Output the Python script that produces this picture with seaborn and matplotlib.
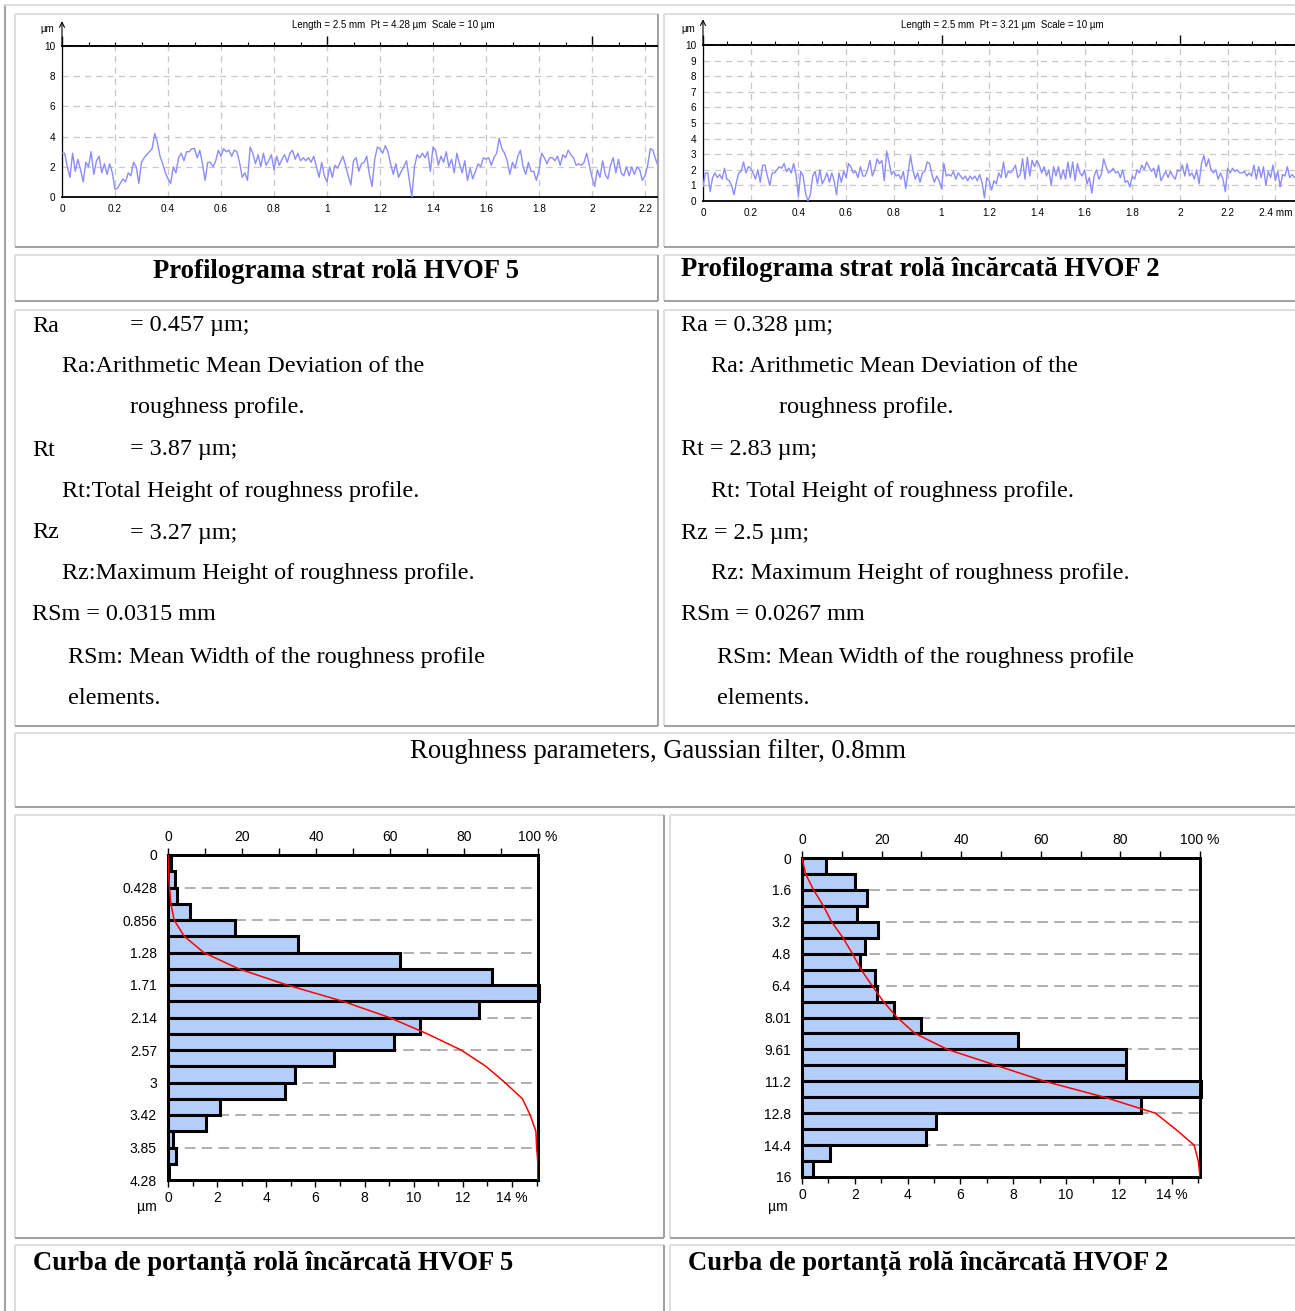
import numpy as np
import pandas as pd
import matplotlib
matplotlib.use("Agg")
import matplotlib.pyplot as plt
import seaborn as sns
from matplotlib.ticker import MultipleLocator, FixedLocator, NullFormatter, FuncFormatter

# ---------------- data ----------------
profile_step_mm = 0.01
profile1_um = [
    2.9, 2.9, 2.0, 1.3, 2.9, 1.7, 2.5, 1.8, 1.0, 2.3,
    2.0, 3.0, 1.5, 2.4, 2.7, 1.6, 2.2, 1.5, 2.2, 1.6,
    0.5, 0.6, 0.9, 1.2, 1.0, 1.6, 1.4, 2.3, 2.0, 0.9,
    2.3, 2.6, 2.8, 3.0, 3.2, 4.2, 3.6, 2.7, 2.2, 1.6,
    1.2, 0.9, 2.0, 1.6, 2.6, 2.9, 2.4, 3.0, 3.0, 3.2,
    3.2, 2.6, 3.1, 2.2, 1.1, 2.3, 2.3, 2.0, 2.4, 3.1,
    2.7, 3.2, 3.0, 3.1, 2.7, 3.1, 3.0, 2.3, 1.3, 1.6,
    1.1, 3.3, 2.9, 2.2, 2.8, 2.0, 2.9, 2.1, 2.4, 2.8,
    1.8, 2.7, 2.1, 2.5, 2.8, 2.3, 2.9, 3.1, 2.5, 2.9,
    2.4, 2.6, 2.4, 2.6, 2.3, 2.7, 2.0, 1.3, 2.3, 1.4,
    1.0, 2.0, 1.3, 2.1, 1.9, 2.3, 2.7, 2.1, 1.4, 0.8,
    2.4, 2.6, 1.7, 2.2, 2.3, 2.7, 1.5, 0.7, 2.5, 3.3,
    3.2, 2.9, 3.4, 3.0, 2.2, 1.5, 2.2, 1.3, 1.7, 2.0,
    2.4, 1.2, 0.0, 2.0, 2.8, 2.6, 2.9, 2.6, 3.0, 1.7,
    3.3, 3.1, 2.1, 2.7, 2.3, 3.0, 2.0, 2.5, 1.6, 2.9,
    2.2, 1.6, 2.4, 1.1, 1.9, 1.2, 1.7, 2.2, 2.0, 2.6,
    2.5, 2.6, 2.1, 2.6, 2.9, 3.9, 3.2, 2.9, 2.4, 1.5,
    2.3, 1.9, 2.7, 3.1, 2.0, 1.5, 2.3, 1.7, 1.7, 1.1,
    1.8, 2.9, 2.6, 2.2, 2.6, 2.6, 2.4, 2.7, 2.1, 2.8,
    2.6, 3.1, 2.8, 2.6, 2.1, 2.2, 2.1, 2.3, 2.9, 2.1,
    1.3, 0.7, 1.8, 1.3, 2.4, 1.5, 1.2, 2.1, 2.6, 1.6,
    2.5, 1.6, 1.4, 2.0, 1.4, 2.0, 1.5, 2.0, 1.8, 1.1,
    1.4, 2.1, 3.2, 3.1, 2.5, 2.0, 1.9,
]
profile2_um = [
    0.9, 1.8, 1.8, 0.6, 1.5, 1.8, 1.5, 1.7, 1.4, 2.1,
    1.4, 1.3, 1.0, 0.4, 1.2, 1.8, 1.9, 2.5, 1.8, 2.2,
    2.1, 1.8, 1.4, 2.0, 1.2, 2.3, 2.3, 1.6, 1.0, 1.8,
    1.8, 2.0, 2.2, 2.1, 2.4, 1.9, 2.1, 1.8, 2.4, 1.7,
    0.3, 1.9, 1.6, 0.5, 0.0, 0.4, 1.6, 1.9, 1.1, 2.0,
    1.1, 1.4, 1.8, 1.2, 1.8, 1.3, 0.4, 1.8, 1.2, 1.9,
    1.5, 2.4, 2.2, 1.8, 1.9, 1.5, 2.2, 1.6, 1.6, 2.0,
    2.6, 1.6, 2.0, 2.7, 2.4, 2.6, 1.3, 3.2, 2.5, 1.7,
    1.9, 1.6, 1.7, 1.4, 1.9, 0.8, 1.8, 2.9, 2.0, 1.4,
    1.8, 1.2, 1.8, 1.9, 2.5, 2.4, 1.7, 1.2, 1.6, 1.3,
    0.8, 2.4, 1.6, 1.7, 1.6, 1.9, 1.4, 1.8, 1.6, 1.4,
    1.6, 1.3, 1.6, 1.4, 1.6, 1.3, 1.7, 1.2, 0.2, 1.5,
    1.3, 0.7, 1.3, 1.1, 1.8, 1.5, 2.5, 1.5, 1.9, 1.8,
    2.0, 2.3, 1.5, 1.7, 2.7, 1.4, 2.8, 1.6, 2.6, 2.2,
    2.6, 2.3, 1.8, 2.2, 1.6, 2.0, 1.0, 2.2, 1.6, 2.2,
    1.4, 2.0, 1.4, 2.5, 1.5, 2.5, 1.3, 2.4, 1.8, 1.6,
    2.0, 1.1, 1.5, 0.5, 1.6, 2.0, 1.4, 1.7, 2.7, 2.2,
    1.8, 1.9, 2.1, 1.8, 1.9, 1.5, 2.0, 1.2, 1.3, 0.9,
    1.6, 1.4, 2.0, 1.8, 2.3, 2.0, 2.5, 2.2, 1.9, 2.1,
    1.5, 2.3, 1.3, 1.6, 1.9, 1.5, 1.9, 1.6, 1.4, 2.0,
    1.9, 2.3, 1.6, 2.4, 1.6, 1.8, 1.4, 2.0, 1.1, 2.4,
    2.9, 2.2, 2.7, 2.0, 1.8, 2.0, 1.4, 1.8, 1.4, 0.6,
    2.1, 1.8, 2.1, 1.9, 2.0, 1.8, 1.8, 1.9, 1.6, 1.8,
    1.6, 2.3, 1.4, 2.2, 1.5, 2.2, 1.0, 1.9, 1.5, 2.3,
    1.3, 1.9, 0.9, 1.7, 1.6, 2.2, 1.5, 1.7, 1.5,
]
profile1_title = "Length = 2.5 mm  Pt = 4.28 µm  Scale = 10 µm"
profile2_title = "Length = 2.5 mm  Pt = 3.21 µm  Scale = 10 µm"

hist1_depth_max = 4.28
hist1_pct = [0.14, 0.27, 0.37, 0.88, 2.74, 5.29, 9.43, 13.19, 15.10, 12.65,
             10.24, 9.20, 6.74, 5.16, 4.76, 2.10, 1.56, 0.20, 0.34, 0.03]
hist1_ylabels = ["0", "0.428", "0.856", "1.28", "1.71", "2.14", "2.57", "3", "3.42", "3.85", "4.28"]

hist2_depth_max = 16.01
hist2_pct = [0.91, 2.01, 2.47, 2.09, 2.86, 2.40, 2.19, 2.76, 2.84, 3.50,
             4.49, 8.18, 12.28, 12.28, 15.12, 12.83, 5.07, 4.69, 1.07, 0.42]
hist2_ylabels = ["0", "1.6", "3.2", "4.8", "6.4", "8.01", "9.61", "11.2", "12.8", "14.4", "16"]

left_lines = [
    ("Ra", "= 0.457 µm;"),
    ("", "Ra:Arithmetic Mean Deviation of the"),
    ("", "roughness profile."),
    ("Rt", "= 3.87 µm;"),
    ("", "Rt:Total Height of roughness profile."),
    ("Rz", "= 3.27 µm;"),
    ("", "Rz:Maximum Height of roughness profile."),
    ("RSm = 0.0315 mm", ""),
    ("", "RSm: Mean Width of the roughness profile"),
    ("", "elements."),
]
right_lines = [
    "Ra = 0.328 µm;",
    "Ra: Arithmetic Mean Deviation of the",
    "roughness profile.",
    "Rt = 2.83 µm;",
    "Rt: Total Height of roughness profile.",
    "Rz = 2.5 µm;",
    "Rz: Maximum Height of roughness profile.",
    "RSm = 0.0267 mm",
    "RSm: Mean Width of the roughness profile",
    "elements.",
]
title_profile_left = "Profilograma strat rolă HVOF 5"
title_profile_right = "Profilograma strat rolă încărcată HVOF 2"
title_middle = "Roughness parameters, Gaussian filter, 0.8mm"
title_curve_left = "Curba de portanță rolă încărcată HVOF 5"
title_curve_right = "Curba de portanță rolă încărcată HVOF 2"

# ---------------- styling ----------------
sns.set_style("white")
plt.rcParams["font.family"] = ["Liberation Sans", "DejaVu Sans"]
plt.rcParams["text.color"] = "black"
plt.rcParams["xtick.color"] = "black"
plt.rcParams["ytick.color"] = "black"
plt.rcParams["axes.labelcolor"] = "black"
SERIF = ["Liberation Serif", "DejaVu Serif"]
PROFILE_BLUE = "#8c8cff"
BAR_BLUE = "#b4cefa"
LIGHT = "#dedede"
DARK = "#a3a3a3"

W, H = 1295, 1311
fig = plt.figure(figsize=(W / 100, H / 100), dpi=100)
fig.patch.set_facecolor("white")

bg = fig.add_axes([0, 0, 1, 1], zorder=-5)
bg.set_xlim(0, W)
bg.set_ylim(H, 0)
bg.axis("off")


def rect_px(l, t, r, b):
    return [l / W, 1 - b / H, (r - l) / W, (b - t) / H]


def cell(l, t, r, b):
    bg.plot([l, r], [t, t], color=LIGHT, lw=1.5, solid_capstyle="butt")
    bg.plot([l, l], [t, b], color=LIGHT, lw=1.5, solid_capstyle="butt")
    bg.plot([l, r], [b, b], color=DARK, lw=1.5, solid_capstyle="butt")
    bg.plot([r, r], [t, b], color=DARK, lw=1.5, solid_capstyle="butt")


# outer table border
bg.plot([5, 5], [5, H + 10], color=DARK, lw=1.5)
bg.plot([5, W + 10], [5, 5], color=LIGHT, lw=1.5)

cells = [
    (15, 14, 658, 247), (664, 14, W + 10, 247),
    (15, 255, 658, 301), (664, 255, W + 10, 301),
    (15, 310, 658, 726), (664, 310, W + 10, 726),
    (15, 733, W + 10, 807),
    (15, 815, 664, 1238), (670, 815, W + 10, 1238),
    (15, 1245, 664, H + 10), (670, 1245, W + 10, H + 10),
]
for c in cells:
    cell(*c)


# ---------------- profiles ----------------
def profile(rect, values, xmax, ymajor, title, title_x, unit_x, last_mm):
    ax = fig.add_axes(rect)
    xs = np.arange(len(values)) * profile_step_mm
    sns.lineplot(x=xs, y=values, ax=ax, color=PROFILE_BLUE, lw=1.0, zorder=3)
    ax.set_xlim(0, xmax)
    ax.set_ylim(0, 10)
    ax.set_xlabel("")
    ax.set_ylabel("")
    ax.set_facecolor("none")
    ax.set_axisbelow(True)
    ax.xaxis.set_major_locator(MultipleLocator(0.2))
    ax.xaxis.set_minor_locator(MultipleLocator(0.1))
    ax.yaxis.set_major_locator(MultipleLocator(ymajor))
    ax.yaxis.set_minor_locator(MultipleLocator(1))

    def fx(v, pos):
        s = f"{v:g}"
        if last_mm and abs(v - 2.4) < 1e-6:
            s = "2.4 mm"
        return s
    ax.xaxis.set_major_formatter(FuncFormatter(fx))
    ax.yaxis.set_major_formatter(FuncFormatter(lambda v, p: f"{v:g}"))
    ax.grid(True, which="major", color="#c8c8c8", ls=(0, (5, 4)), lw=0.9)
    ax.tick_params(axis="x", which="both", direction="out", length=3, width=0.8,
                   labelsize=7.2, pad=2, colors="black")
    ax.tick_params(axis="y", which="both", direction="out", length=3, width=0.8,
                   labelsize=7.2, pad=2, colors="black")
    for s in ["top", "bottom"]:
        ax.spines[s].set_visible(True)
        ax.spines[s].set_color("black")
        ax.spines[s].set_linewidth(1.3)
    ax.spines["left"].set_color("black")
    ax.spines["left"].set_linewidth(0.9)
    ax.spines["right"].set_visible(False)
    sec = ax.secondary_xaxis("top")
    sec.xaxis.set_major_locator(MultipleLocator(1))
    sec.xaxis.set_minor_locator(MultipleLocator(0.1))
    sec.xaxis.set_major_formatter(NullFormatter())
    sec.tick_params(which="major", direction="out", length=7, width=1.0)
    sec.tick_params(which="minor", direction="out", length=3, width=0.8)
    sec.spines["top"].set_linewidth(1.3)
    ax.annotate("", xy=(0, 1.165), xytext=(0, 1.0), xycoords="axes fraction",
                arrowprops=dict(arrowstyle="->", lw=0.8, color="black",
                                shrinkA=0, shrinkB=0, mutation_scale=9),
                annotation_clip=False)
    bg.text(title_x, 25, title, ha="center", va="center", fontsize=7)
    bg.text(unit_x, 29, "µm", ha="right", va="center", fontsize=7)
    return ax


profile(rect_px(62, 46, 657, 197), profile1_um, (657 - 62) / 265.0, 2,
        profile1_title, 393, 54, False)
profile(rect_px(703, 45, W, 201), profile2_um, (W - 703) / 238.5, 1,
        profile2_title, 1002, 695, True)


# ---------------- bearing ratio histograms ----------------
def bearing(rect, pct, ymax, ylabels, xmax, unit_xy):
    ax = fig.add_axes(rect)
    n = len(pct)
    edges = np.linspace(0, ymax, n + 1)
    centers = (edges[:-1] + edges[1:]) / 2
    df = pd.DataFrame({"depth": centers, "pct": pct})
    major = np.linspace(0, ymax, len(ylabels))
    for yv in major[1:-1]:
        ax.axhline(yv, color="#9a9a9a", lw=1.1, ls=(0, (7, 4)), zorder=0.5)
    sns.histplot(data=df, y="depth", weights="pct", bins=n, binrange=(0, ymax),
                 ax=ax, color=BAR_BLUE, alpha=1, edgecolor="black",
                 linewidth=2.2, zorder=2)
    for p in ax.patches:
        p.set_clip_on(False)
    ax.set_xlim(0, xmax)
    ax.set_ylim(ymax, 0)
    ax.set_xlabel("")
    ax.set_ylabel("")
    ax.set_yticks(major)
    ax.set_yticklabels(ylabels)
    ax.yaxis.set_minor_locator(FixedLocator(edges[1::2]))
    ax.xaxis.set_major_locator(MultipleLocator(2))
    ax.xaxis.set_minor_locator(MultipleLocator(1))
    ax.xaxis.set_major_formatter(
        FuncFormatter(lambda v, p: "14 %" if abs(v - 14) < 1e-6 else f"{v:g}"))
    ax.tick_params(axis="both", which="major", direction="out", length=5,
                   width=1, labelsize=10, pad=3, colors="black")
    ax.tick_params(axis="both", which="minor", direction="out", length=4,
                   width=1, colors="black")
    for s in ax.spines.values():
        s.set_color("black")
        s.set_linewidth(2)

    cum = np.concatenate([[0.0], np.cumsum(pct)])
    cum = cum / cum[-1] * 100.0
    axt = ax.twiny()
    sns.lineplot(x=cum, y=edges, sort=False, estimator=None, ax=axt,
                 color="red", lw=1.1, zorder=5)
    axt.set_xlim(0, 100)
    axt.set_ylim(ymax, 0)
    axt.set_xlabel("")
    axt.set_ylabel("")
    axt.xaxis.set_major_locator(MultipleLocator(20))
    axt.xaxis.set_minor_locator(MultipleLocator(10))
    axt.xaxis.set_major_formatter(
        FuncFormatter(lambda v, p: "100 %" if abs(v - 100) < 1e-6 else f"{v:g}"))
    axt.tick_params(axis="x", which="major", direction="out", length=5,
                    width=1, labelsize=10, pad=3, colors="black")
    axt.tick_params(axis="x", which="minor", direction="out", length=5,
                    width=1, colors="black")
    for s in axt.spines.values():
        s.set_color("black")
        s.set_linewidth(2)
    bg.text(unit_xy[0], unit_xy[1], "µm", ha="center", va="center", fontsize=10)
    return ax


bearing(rect_px(168, 855, 538, 1180), hist1_pct, hist1_depth_max, hist1_ylabels,
        15.06, (147, 1207))
bearing(rect_px(802, 858, 1200, 1177), hist2_pct, hist2_depth_max, hist2_ylabels,
        15.07, (778, 1207))

# ---------------- text panels ----------------
TXT = 17.4
line_y = [326, 367, 408, 450, 491, 533, 574, 615, 657, 698]
indent_left = [32, 62, 130, 32, 62, 32, 62, 32, 68, 68]
for (a, b), y, xi in zip(left_lines, line_y, indent_left):
    if a:
        bg.text(32, y, a, ha="left", va="center", fontsize=TXT, family=SERIF)
        if b:
            bg.text(130, y, b, ha="left", va="center", fontsize=TXT, family=SERIF)
    else:
        bg.text(xi, y, b, ha="left", va="center", fontsize=TXT, family=SERIF)

indent_right = [681, 711, 779, 681, 711, 681, 711, 681, 717, 717]
for t, y, xi in zip(right_lines, line_y, indent_right):
    bg.text(xi, y, t, ha="left", va="center", fontsize=TXT, family=SERIF)

TT = 19.2
bg.text(336, 272, title_profile_left, ha="center", va="center", fontsize=TT,
        fontweight="bold", family=SERIF)
bg.text(681, 270, title_profile_right, ha="left", va="center", fontsize=TT,
        fontweight="bold", family=SERIF)
bg.text(658, 751, title_middle, ha="center", va="center", fontsize=19.2,
        family=SERIF)
bg.text(33, 1263, title_curve_left, ha="left", va="center", fontsize=TT,
        fontweight="bold", family=SERIF)
bg.text(688, 1263, title_curve_right, ha="left", va="center", fontsize=TT,
        fontweight="bold", family=SERIF)

fig.savefig("out.png", dpi=100, facecolor="white")
